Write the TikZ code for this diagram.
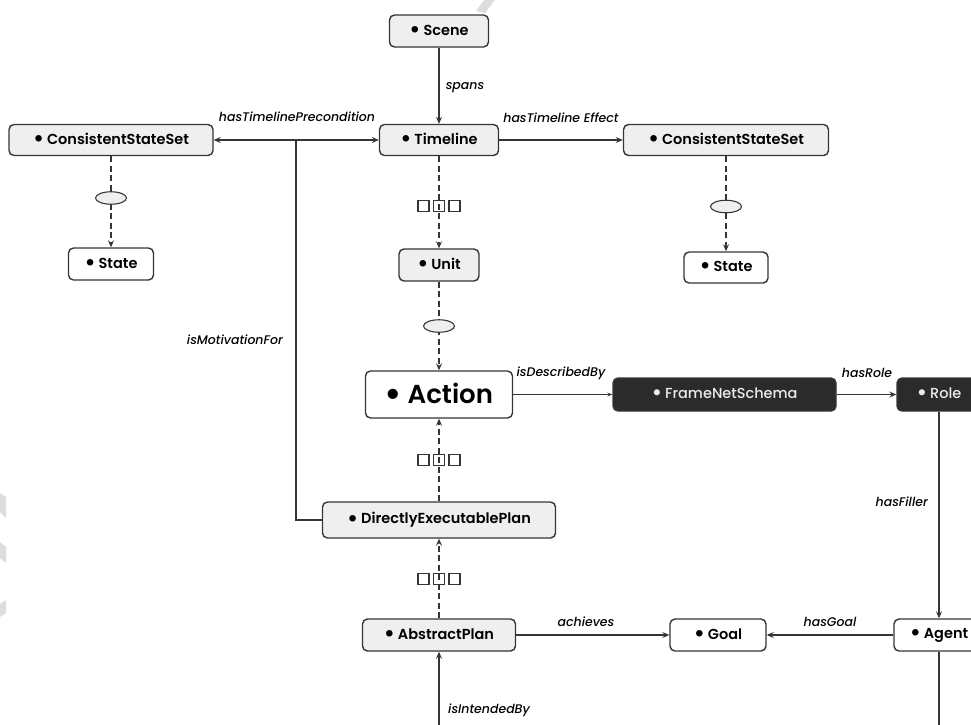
\documentclass[tikz,border=0pt]{standalone}
\usepackage{fontspec}
\setmainfont{Poppins}[UprightFont={* Medium}, ItalicFont={* Medium Italic}, BoldFont={* SemiBold}]
\usetikzlibrary{arrows.meta,shapes.geometric}

\definecolor{edgegray}{HTML}{353535}
\definecolor{boxfill}{HTML}{EFEFEF}
\definecolor{darkfill}{HTML}{2B2B2B}
\definecolor{wmgray}{HTML}{DDDDDD}

% a larger bullet in front of each class name (scale, drop)
\newcommand{\dotmark}[1][1.6]{\raisebox{-0.28ex}{\scalebox{#1}{\textbullet}}\kern0.2em}
\newcommand{\actiondot}{\raisebox{-0.19ex}{\scalebox{1.4}{\textbullet}}\kern0.2em}

\tikzset{
  box/.style={draw=edgegray, line width=1.4pt, rounded corners=5pt, fill=boxfill,
    inner sep=0pt, text=black, font=\fontsize{14.5}{17}\selectfont\bfseries},
  whitebox/.style={box, fill=white},
  darkbox/.style={box, fill=darkfill, text=white!92!black, font=\fontsize{14.5}{17}\selectfont},
  tip/.tip={Stealth[length=7pt,width=6pt,inset=2.5pt]},
  plain/.style={draw=edgegray, line width=1.4pt},
  conn/.style={plain, -tip},
  biconn/.style={plain, tip-tip},
  thinconn/.style={draw=edgegray, line width=0.8pt, -{Stealth[length=5pt,width=4pt,inset=2pt]}},
  dashconn/.style={conn, line width=2pt, dash pattern=on 6pt off 3.5pt},
  lbl/.style={font=\fontsize{12.5}{14}\selectfont\itshape, text=black, inner sep=0pt},
  oval/.style={ellipse, draw=edgegray, fill=boxfill, line width=1.1pt,
    minimum width=31pt, minimum height=12.5pt, inner sep=0pt},
  sq/.style={draw=edgegray, line width=1.1pt, minimum size=11pt, inner sep=0pt},
}

\begin{document}
\begin{tikzpicture}[x=1pt,y=-1pt]
\useasboundingbox (0,0) rectangle (971,724);
\clip (0,0) rectangle (971,724);

% faint marks along the edges
\fill[wmgray] (484,0) -- (495,0) -- (485,13) -- (476,11) -- cycle;
\fill[wmgray] (0,493) -- (6,497) -- (6,518) -- (0,512) -- cycle;
\fill[wmgray] (0,542) -- (6,547) -- (6,563) -- (0,558) -- cycle;
\fill[wmgray] (0,604) -- (6,600) -- (6,613) -- (0,617) -- cycle;

% classes
\node[box, minimum width=99pt, minimum height=32pt] (scene) at (439,31) {\dotmark Scene};
\node[box, minimum width=119pt, minimum height=31pt] (timeline) at (439,140) {\dotmark Timeline};
\node[box, minimum width=204pt, minimum height=31pt] (cssl) at (111,140) {\dotmark ConsistentStateSet};
\node[box, minimum width=205pt, minimum height=31pt] (cssr) at (726,140) {\dotmark ConsistentStateSet};
\node[whitebox, minimum width=85pt, minimum height=32pt] (statel) at (111,264) {\dotmark State};
\node[box, minimum width=80pt, minimum height=32pt] (unit) at (439,265) {\dotmark Unit};
\node[whitebox, minimum width=84pt, minimum height=31pt] (stater) at (726,267.5) {\dotmark State};
\node[whitebox, minimum width=147pt, minimum height=47pt,
      font=\fontsize{26}{30}\selectfont\bfseries] (action) at (439,394.5) {\actiondot Action};
\node[darkbox, minimum width=223pt, minimum height=33pt] (fns) at (724.5,394.5) {\dotmark FrameNetSchema};
\node[darkbox, minimum width=84pt, minimum height=33pt] (role) at (939,394.5) {\dotmark Role};
\node[box, minimum width=233pt, minimum height=36pt] (dep) at (439,520) {\dotmark DirectlyExecutablePlan};
\node[box, minimum width=153pt, minimum height=32pt] (aplan) at (439,635) {\dotmark AbstractPlan};
\node[whitebox, minimum width=96pt, minimum height=32pt] (goal) at (718,635) {\dotmark Goal};
\node[whitebox, minimum width=90pt, minimum height=32pt] (agent) at (939,635) {\dotmark Agent};

% object properties
\draw[conn] (scene) -- (timeline);
\node[lbl] (spansl) at (465,88) {spans};

\draw[biconn] (cssl) -- (timeline);
\node[lbl] (precl) at (297,117) {hasTimelinePrecondition};
\coordinate (motj) at (296,140);
\draw[plain] (dep.west) -| (motj);
\node[lbl, anchor=east] (motl) at (283,340) {isMotivationFor};

\draw[conn] (timeline) -- (cssr);
\node[lbl] (effl) at (561,118) {hasTimeline Effect};

\draw[thinconn] (action) -- (fns);
\node[lbl] (descl) at (561,373) {isDescribedBy};
\draw[conn] (fns) -- (role);
\node[lbl] (rolel) at (867,373) {hasRole};
\draw[conn] (role) -- (agent);
\node[lbl, anchor=east] (filll) at (928,502) {hasFiller};

\draw[conn] (aplan) -- (goal);
\node[lbl] (achl) at (586,622) {achieves};
\draw[conn] (agent) -- (goal);
\node[lbl] (goall) at (830,622) {hasGoal};

\coordinate (intl) at (439,760);
\coordinate (intr) at (939,760);
\draw[plain] (agent) -- (intr) -- (intl);
\draw[conn] (intl) -- (aplan);
\node[lbl, anchor=west] (intendl) at (448,710) {isIntendedBy};

% membership and sequence links
\draw[dashconn] (cssl) -- (statel);
\draw[dashconn] (cssr) -- (stater);
\draw[dashconn] (timeline) -- (unit);
\draw[dashconn] (unit) -- (action);
\draw[dashconn] (dep) -- (action);
\draw[dashconn] (aplan) -- (dep);

\node[oval] (setl) at (111,198) {};
\node[oval] (setr) at (726,206.5) {};
\node[oval] (setu) at (439,326) {};

\foreach \y/\n in {206/a, 460/b, 579/c}{
  \node[sq] (sq1\n) at (423.5,\y) {};
  \node[sq] (sq2\n) at (439,\y) {};
  \node[sq] (sq3\n) at (454.5,\y) {};
}
\end{tikzpicture}
\end{document}
